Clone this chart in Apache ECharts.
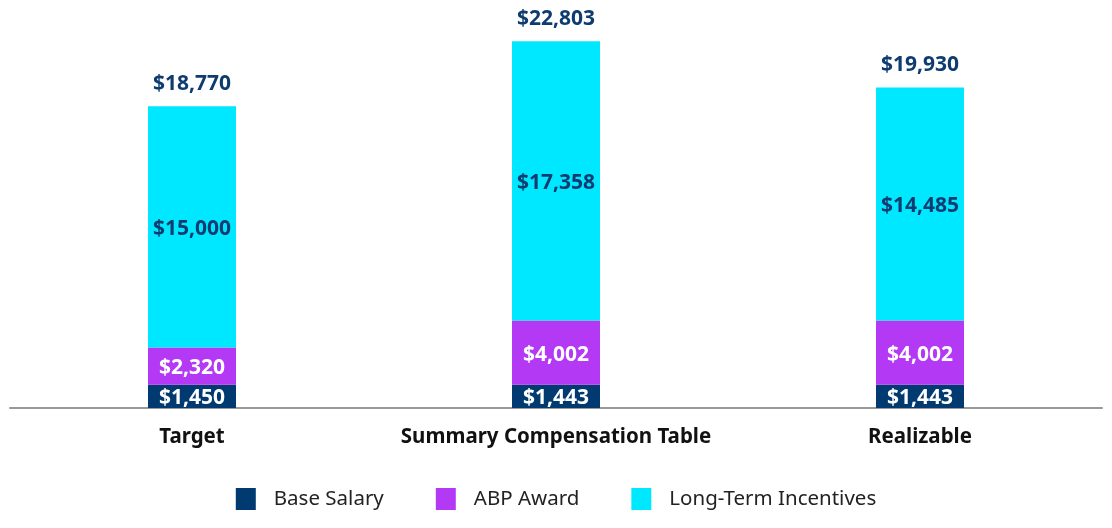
<!DOCTYPE html>
<html>
<head>
<meta charset="utf-8">
<script src="https://cdn.jsdelivr.net/npm/echarts@6/dist/echarts.min.js"></script>
<style>html,body{margin:0;padding:0;background:#fff;}#c{width:1112px;height:528px;}</style>
</head>
<body>
<div id="c"></div>
<script>
const categories = ['Target', 'Summary Compensation Table', 'Realizable'];
const baseSalary = [1450, 1443, 1443];
const abpAward = [2320, 4002, 4002];
const longTerm = [15000, 17358, 14485];
const totals = [18770, 22803, 19930];

const fmt = v => '$' + v.toLocaleString('en-US');
const FONT = '"Noto Sans", "Open Sans", sans-serif';

const chart = echarts.init(document.getElementById('c'));
chart.setOption({
  animation: false,
  grid: { left: 10, right: 10, top: 6, bottom: 120 },
  legend: {
    data: ['Base Salary', 'ABP Award', 'Long-Term Incentives'],
    bottom: 13, left: 'center',
    itemWidth: 20, itemHeight: 22, itemGap: 52,
    icon: 'rect',
    textStyle: { fontFamily: FONT, fontSize: 20.5, color: '#222', padding: [0, 0, 0, 13] }
  },
  xAxis: {
    type: 'category', data: categories,
    axisLine: { lineStyle: { color: '#999', width: 2 } },
    axisTick: { show: false },
    axisLabel: { interval: 0, fontFamily: FONT, fontSize: 20.5, fontWeight: 'bold', color: '#111', margin: 19 }
  },
  yAxis: { type: 'value', min: 0, max: 25000, show: false, splitLine: { show: false } },
  series: [
    { name: 'Base Salary', type: 'bar', stack: 't', barWidth: 88, data: baseSalary,
      itemStyle: { color: '#003a70' },
      label: { show: true, position: 'inside', offset: [0, 2], formatter: p => fmt(p.value), color: '#fff', fontFamily: FONT, fontSize: 21, fontWeight: 'bold' } },
    { name: 'ABP Award', type: 'bar', stack: 't', barWidth: 88, data: abpAward,
      itemStyle: { color: '#b339f5' },
      label: { show: true, position: 'inside', offset: [0, 2], formatter: p => fmt(p.value), color: '#fff', fontFamily: FONT, fontSize: 21, fontWeight: 'bold' } },
    { name: 'Long-Term Incentives', type: 'bar', stack: 't', barWidth: 88, data: longTerm,
      itemStyle: { color: '#00e8ff' },
      label: { show: true, position: 'inside', offset: [0, 2], formatter: p => fmt(p.value), color: '#0f3c70', fontFamily: FONT, fontSize: 21, fontWeight: 'bold' } },
    { name: 'Total', type: 'bar', stack: 't', barWidth: 88, data: totals.map(() => 0),
      itemStyle: { color: 'transparent' },
      label: { show: true, position: 'top', distance: 12, formatter: p => fmt(totals[p.dataIndex]), color: '#0f3c70', fontFamily: FONT, fontSize: 21, fontWeight: 'bold' } }
  ]
});
</script>
</body>
</html>
